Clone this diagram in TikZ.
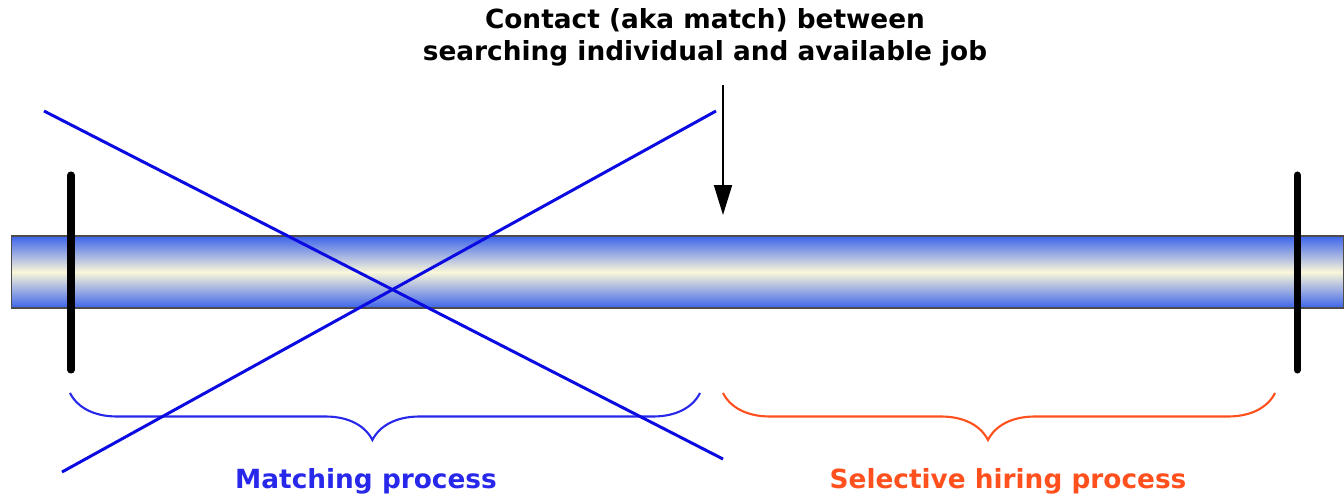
\documentclass[tikz,border=0pt]{standalone}
\usepackage{fontspec}
\setmainfont{DejaVu Sans}
\usetikzlibrary{arrows.meta, decorations.pathreplacing}

\definecolor{barblue}{RGB}{60,100,235}
\definecolor{barcream}{RGB}{250,246,218}
\definecolor{matchblue}{RGB}{40,40,235}
\definecolor{hireorange}{RGB}{255,80,30}
\definecolor{crossblue}{RGB}{10,10,225}

\begin{document}
\begin{tikzpicture}[x=0.02cm,y=-0.02cm,
   txt/.style={font=\fontsize{15}{18.2}\selectfont\bfseries, align=center, inner sep=0pt},
   tube/.style={draw=black!70, line width=0.6pt, top color=barblue, bottom color=barblue, middle color=barcream,
                minimum width=26.66cm, minimum height=1.44cm, inner sep=0pt},
   post/.style={line width=4pt, line cap=round},
   cross/.style={crossblue, line width=1.7pt},
   procbrace/.style={decorate, line width=1.2pt, decoration={brace, mirror, amplitude=0.94cm, aspect=0.48}}]

   \useasboundingbox (0,0) rectangle (1344,497);

   % Nodes
      \node[tube]            (tube)    at (677.5,272) {};
      \node[txt]             (contact) at (705,37)    {Contact (aka match) between\\searching individual and available job};
      \node[txt,matchblue]   (match)   at (366,481)   {Matching process};
      \node[txt,hireorange]  (hiring)  at (1008,481)  {Selective hiring process};

   % Coordinates
      \coordinate (arrtop) at (723,85);
      \coordinate (arrtip) at (723,215);
      \coordinate (postA1) at (71,175);
      \coordinate (postA2) at (71,370);
      \coordinate (postB1) at (1297,175);
      \coordinate (postB2) at (1297,370);
      \coordinate (crossA1) at (44,111);
      \coordinate (crossA2) at (723,459);
      \coordinate (crossB1) at (62,472);
      \coordinate (crossB2) at (716,111);

   % Paths
      \draw[post] (postA1) -- (postA2);
      \draw[post] (postB1) -- (postB2);
      \draw[line width=1.1pt, -{Triangle[length=0.6cm, width=0.36cm]}] (arrtop) -- (arrtip);
      \draw[procbrace, matchblue]  (70,393)  -- (700,393);
      \draw[procbrace, hireorange] (723,393) -- (1275,393);
      \draw[cross] (crossA1) -- (crossA2);
      \draw[cross] (crossB1) -- (crossB2);
\end{tikzpicture}
\end{document}
